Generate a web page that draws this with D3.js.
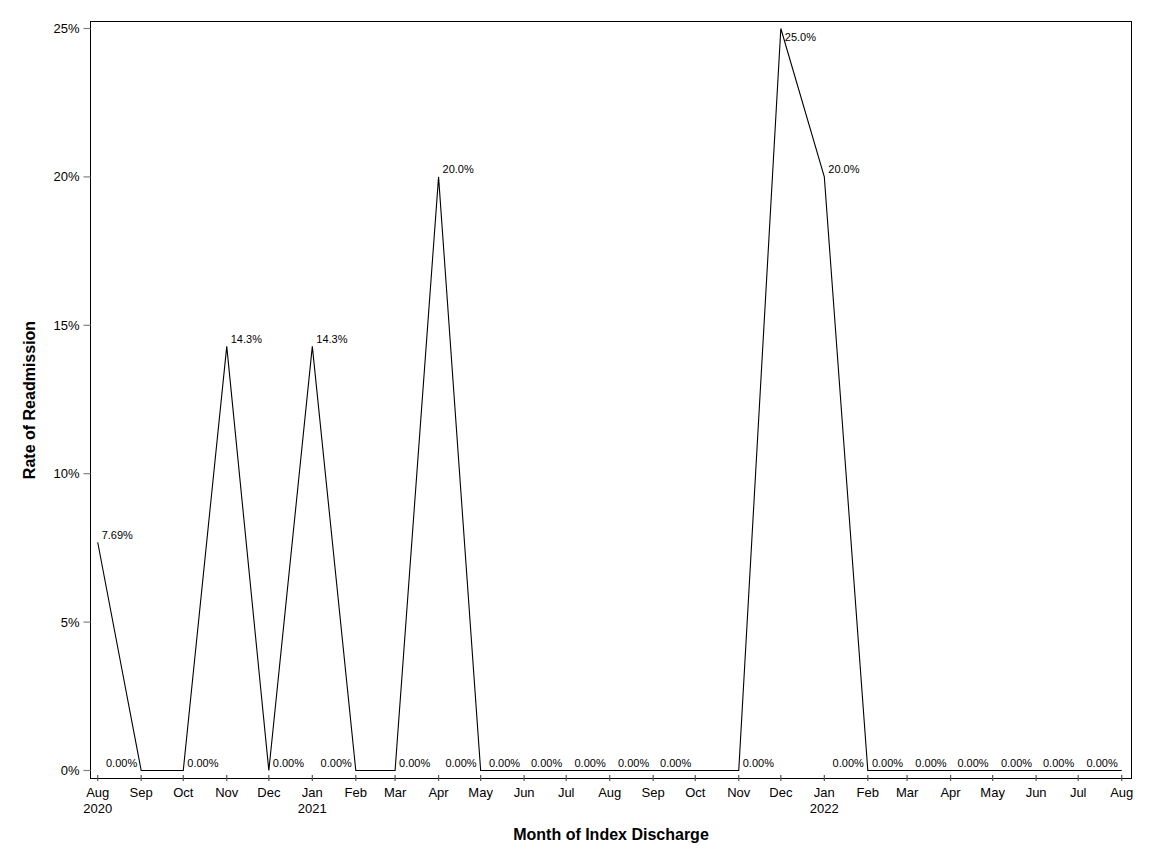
<!DOCTYPE html>
<html><head><meta charset="utf-8">
<script src="https://cdn.jsdelivr.net/npm/d3@7"></script>
<style>body{margin:0;background:#fff}svg{display:block}text{font-family:"Liberation Sans",Arial,sans-serif;fill:#000}</style>
</head><body><svg id="c" width="1152" height="864"></svg>
<script>
const months = ["2020-08","2020-09","2020-10","2020-11","2020-12","2021-01","2021-02","2021-03","2021-04","2021-05","2021-06","2021-07","2021-08","2021-09","2021-10","2021-11","2021-12","2022-01","2022-02","2022-03","2022-04","2022-05","2022-06","2022-07","2022-08"];
const rates = [7.69,0,0,14.29,0,14.29,0,0,20,0,0,0,0,0,0,0,25,20,0,0,0,0,0,0,0];
const rateLabels = ["7.69%","0.00%","0.00%","14.3%","0.00%","14.3%","0.00%","0.00%","20.0%","0.00%","0.00%","0.00%","0.00%","0.00%","0.00%","0.00%","25.0%","20.0%","0.00%","0.00%","0.00%","0.00%","0.00%","0.00%","0.00%"];
const yTicks = [0,5,10,15,20,25];
const yTickLabels = ["0%","5%","10%","15%","20%","25%"];
const monthNames = ["Jan","Feb","Mar","Apr","May","Jun","Jul","Aug","Sep","Oct","Nov","Dec"];

const svg = d3.select("#c");
const parse = d3.utcParse("%Y-%m");
const data = months.map((m,i)=>({d:parse(m), v:rates[i], lab:rateLabels[i], i}));
const L=90.5, R=1131.5, T=21.5, B=778.5;
const x = d3.scaleUtc().domain([data[0].d, data[data.length-1].d]).range([97.7,1121.7]);
const y = d3.scaleLinear().domain([0,25]).range([770.5,28.5]);

// frame
svg.append("rect").attr("x",L).attr("y",T).attr("width",R-L).attr("height",B-T)
  .attr("fill","none").attr("stroke","#000").attr("stroke-width",1);

// y axis
const ya = svg.append("g");
yTicks.forEach((t,k)=>{
  ya.append("line").attr("x1",L-7).attr("x2",L).attr("y1",y(t)).attr("y2",y(t)).attr("stroke","#808080").attr("stroke-width",1.2);
  ya.append("text").attr("x",L-11).attr("y",y(t)).attr("dy","0.35em").attr("text-anchor","end").attr("font-size",13).text(yTickLabels[k]);
});

// x axis
const xa = svg.append("g");
data.forEach((p,k)=>{
  const px = x(p.d);
  xa.append("line").attr("x1",px).attr("x2",px).attr("y1",B-3.5).attr("y2",B+2.5).attr("stroke","#555").attr("stroke-width",1.2);
  xa.append("text").attr("x",px).attr("y",797).attr("text-anchor","middle").attr("font-size",13).text(monthNames[p.d.getUTCMonth()]);
  if (k===0 || p.d.getUTCMonth()===0)
    xa.append("text").attr("x",px).attr("y",813).attr("text-anchor","middle").attr("font-size",13).text(p.d.getUTCFullYear());
});

// line
const line = d3.line().x(p=>x(p.d)).y(p=>y(p.v));
svg.append("path").datum(data).attr("d",line).attr("fill","none").attr("stroke","#000").attr("stroke-width",1.1);

// data labels
data.forEach((p,k)=>{
  const next = k<data.length-1 ? data[k+1].v : null;
  const right = p.v>0 || (next!==null && next>p.v);
  let by = y(p.v)-3.5;
  if (by-9 < T) by = y(p.v)+12;
  svg.append("text").attr("x", right ? x(p.d)+4 : x(p.d)-4).attr("y",by)
    .attr("text-anchor", right ? "start":"end").attr("font-size",11).text(p.lab);
});

// titles
svg.append("text").attr("x",(L+R)/2).attr("y",840).attr("text-anchor","middle").attr("font-size",16).attr("font-weight","bold").text("Month of Index Discharge");
svg.append("text").attr("transform",`translate(35,${(T+B)/2}) rotate(-90)`).attr("text-anchor","middle").attr("font-size",16).attr("font-weight","bold").text("Rate of Readmission");
</script></body></html>
